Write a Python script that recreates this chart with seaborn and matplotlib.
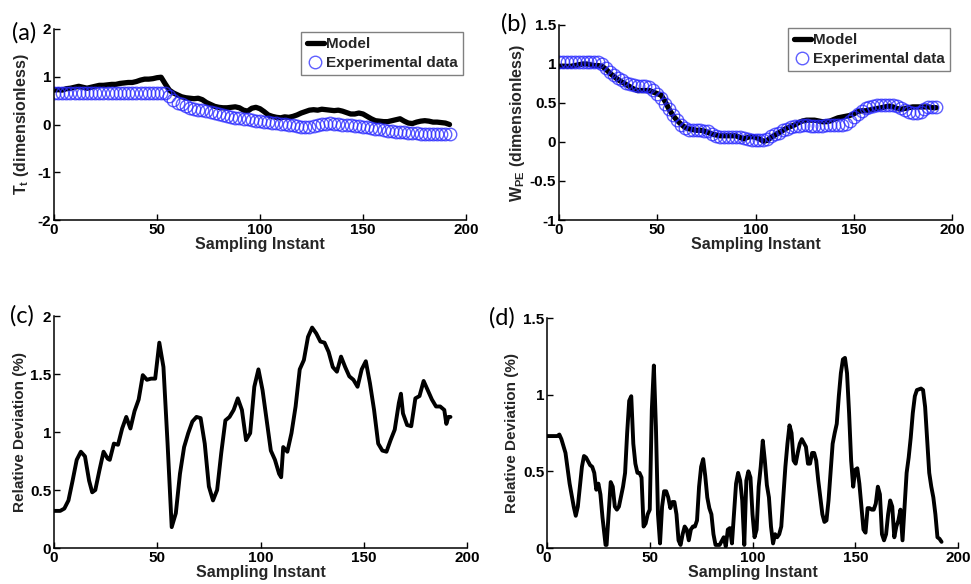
import matplotlib
matplotlib.use('Agg')
import matplotlib.pyplot as plt
import seaborn as sns

# ---- data ----
# panels (a) and (b): one value every 2 sampling instants, 0..192
sample_ab = list(range(0, 193, 2))

tt_model = [0.72, 0.73, 0.72, 0.75, 0.76, 0.78, 0.80, 0.78, 0.76, 0.78,
            0.80, 0.82, 0.82, 0.83, 0.84, 0.84, 0.86, 0.87, 0.88, 0.88,
            0.90, 0.93, 0.95, 0.95, 0.96, 0.98, 0.99, 0.85, 0.72, 0.66,
            0.62, 0.58, 0.56, 0.55, 0.54, 0.55, 0.52, 0.46, 0.42, 0.38,
            0.36, 0.35, 0.35, 0.36, 0.37, 0.35, 0.30, 0.28, 0.34, 0.36,
            0.33, 0.27, 0.20, 0.17, 0.15, 0.14, 0.16, 0.15, 0.17, 0.20,
            0.24, 0.27, 0.30, 0.31, 0.30, 0.32, 0.31, 0.30, 0.29, 0.30,
            0.28, 0.25, 0.22, 0.22, 0.24, 0.22, 0.17, 0.12, 0.08, 0.07,
            0.06, 0.06, 0.08, 0.10, 0.12, 0.07, 0.03, 0.02, 0.05, 0.07,
            0.08, 0.07, 0.05, 0.05, 0.04, 0.03, 0.00]
tt_exp = [0.66, 0.66, 0.65, 0.66, 0.67, 0.67, 0.66, 0.66, 0.65, 0.66,
          0.66, 0.66, 0.66, 0.66, 0.66, 0.66, 0.66, 0.66, 0.66, 0.66,
          0.66, 0.66, 0.66, 0.66, 0.66, 0.66, 0.66, 0.65, 0.60, 0.52,
          0.45, 0.42, 0.38, 0.35, 0.33, 0.31, 0.30, 0.29, 0.27, 0.25,
          0.22, 0.20, 0.18, 0.16, 0.14, 0.13, 0.12, 0.11, 0.10, 0.08,
          0.07, 0.06, 0.05, 0.04, 0.03, 0.02, 0.01, 0.00, -0.01, -0.03,
          -0.05, -0.06, -0.05, -0.03, -0.01, 0.01, 0.02, 0.03, 0.02, 0.01,
          0.00, -0.01, -0.02, -0.03, -0.04, -0.05, -0.06, -0.07, -0.09, -0.10,
          -0.12, -0.13, -0.14, -0.15, -0.15, -0.16, -0.17, -0.18, -0.18, -0.19,
          -0.19, -0.19, -0.20, -0.20, -0.20, -0.20, -0.19]

wpe_model = [0.97, 0.97, 0.97, 0.97, 0.98, 0.99, 1.00, 1.00, 0.99, 0.98,
             0.98, 0.97, 0.93, 0.88, 0.84, 0.80, 0.77, 0.74, 0.71, 0.68,
             0.66, 0.66, 0.66, 0.66, 0.64, 0.62, 0.60, 0.52, 0.42, 0.34,
             0.28, 0.23, 0.19, 0.17, 0.16, 0.15, 0.15, 0.14, 0.12, 0.10,
             0.09, 0.08, 0.08, 0.08, 0.08, 0.08, 0.06, 0.04, 0.06, 0.07,
             0.06, 0.04, 0.01, 0.02, 0.06, 0.09, 0.12, 0.15, 0.18, 0.20,
             0.22, 0.25, 0.27, 0.28, 0.28, 0.28, 0.27, 0.26, 0.26, 0.27,
             0.29, 0.31, 0.32, 0.33, 0.34, 0.36, 0.39, 0.40, 0.40, 0.41,
             0.42, 0.43, 0.44, 0.45, 0.46, 0.45, 0.43, 0.42, 0.43, 0.44,
             0.45, 0.45, 0.45, 0.45, 0.45, 0.44, 0.44]
wpe_exp = [1.03, 1.03, 1.03, 1.03, 1.03, 1.03, 1.03, 1.03, 1.03, 1.03,
           1.03, 1.00, 0.95, 0.90, 0.86, 0.82, 0.79, 0.76, 0.74, 0.73,
           0.72, 0.72, 0.72, 0.71, 0.67, 0.62, 0.56, 0.49, 0.42, 0.35,
           0.28, 0.22, 0.18, 0.16, 0.15, 0.15, 0.15, 0.14, 0.14, 0.10,
           0.08, 0.07, 0.06, 0.06, 0.06, 0.06, 0.06, 0.05, 0.04, 0.03,
           0.02, 0.02, 0.02, 0.04, 0.08, 0.10, 0.12, 0.15, 0.17, 0.19,
           0.20, 0.21, 0.22, 0.22, 0.21, 0.20, 0.20, 0.21, 0.22, 0.22,
           0.22, 0.22, 0.22, 0.23, 0.27, 0.32, 0.36, 0.40, 0.43, 0.45,
           0.46, 0.47, 0.47, 0.47, 0.47, 0.47, 0.46, 0.44, 0.41, 0.38,
           0.37, 0.37, 0.39, 0.42, 0.45, 0.45, 0.45]

# panel (c): relative deviation of T_t
dev_t_x = [0, 3, 5, 7, 9, 11, 13, 15, 17, 18.5, 20, 22, 24, 26, 27, 29, 31, 33,
           35, 37, 39, 41, 43, 45, 47, 49, 51, 53, 55, 57, 59, 61, 63, 65, 67,
           69, 71, 73, 75, 77, 79, 81, 83, 85, 87, 89, 91, 93, 95, 97, 99, 101,
           103, 105, 107, 109, 110, 111, 113, 115, 117, 119, 121, 123, 125, 127,
           129, 131, 133, 135, 137, 139, 141, 143, 145, 147, 149, 151, 153, 155,
           157, 159, 161, 163, 165, 167, 168, 169, 171, 173, 175, 177, 179, 181,
           183, 185, 187, 189, 190, 191, 192]
dev_t_y = [0.32, 0.32, 0.34, 0.41, 0.58, 0.76, 0.83, 0.79, 0.58, 0.48, 0.50,
           0.67, 0.83, 0.77, 0.76, 0.90, 0.89, 1.03, 1.13, 1.03, 1.18, 1.28,
           1.49, 1.45, 1.46, 1.46, 1.77, 1.56, 0.90, 0.18, 0.30, 0.64, 0.87,
           0.99, 1.09, 1.13, 1.12, 0.90, 0.53, 0.41, 0.50, 0.82, 1.10, 1.13,
           1.19, 1.29, 1.19, 0.93, 0.99, 1.39, 1.54, 1.36, 1.10, 0.84, 0.76,
           0.64, 0.61, 0.87, 0.83, 0.99, 1.22, 1.54, 1.62, 1.82, 1.90, 1.85,
           1.78, 1.77, 1.69, 1.56, 1.52, 1.65, 1.56, 1.48, 1.45, 1.39, 1.54,
           1.61, 1.42, 1.19, 0.90, 0.84, 0.83, 0.93, 1.02, 1.25, 1.33, 1.16,
           1.06, 1.05, 1.29, 1.31, 1.44, 1.36, 1.28, 1.22, 1.22, 1.19, 1.07,
           1.13, 1.13]

# panel (d): relative deviation of W_PE
dev_w_x = [0, 5, 6, 7, 9, 11, 13, 14, 15, 17, 18, 19, 21, 22, 23, 24, 25, 26,
           27, 28.5, 29, 30, 31, 32, 33, 34, 35, 37, 38, 39, 40, 41, 42, 43, 44,
           45, 46, 47, 48, 49, 50, 51, 52, 53, 54, 55, 56, 57, 58, 59, 60, 61,
           62, 63, 64, 65, 66, 67, 68, 69, 70, 71, 72, 73, 74, 75, 76, 77, 78,
           79, 80, 81, 82, 84, 86, 87, 88, 89, 90, 91, 92, 93, 94, 95, 96, 97,
           98, 99, 100, 101, 102, 103, 104, 105, 106, 107, 108, 109, 110, 111,
           112, 113, 114, 115, 116, 117, 118, 119, 120, 121, 122, 123, 124, 126,
           127, 128, 129, 130, 131, 132, 134, 135, 136, 137, 139, 140, 141, 142,
           143, 144, 145, 146, 147, 148, 149, 150, 151, 152, 153, 154, 155, 156,
           157, 158, 159, 160, 161, 162, 163, 164, 165, 166, 167, 168, 169, 170,
           171, 172, 173, 174, 175, 176, 177, 178, 179, 180, 182, 183, 184, 185,
           186, 187, 188, 189, 190, 191, 192]
dev_w_y = [0.73, 0.73, 0.74, 0.71, 0.62, 0.42, 0.27, 0.21, 0.27, 0.53, 0.60,
           0.59, 0.54, 0.53, 0.49, 0.38, 0.42, 0.35, 0.20, 0.02, 0.02, 0.22,
           0.43, 0.40, 0.27, 0.25, 0.27, 0.40, 0.49, 0.75, 0.96, 0.99, 0.68,
           0.55, 0.49, 0.49, 0.46, 0.14, 0.16, 0.22, 0.25, 0.90, 1.19, 0.79,
           0.22, 0.03, 0.27, 0.37, 0.37, 0.33, 0.26, 0.30, 0.30, 0.22, 0.05,
           0.02, 0.09, 0.14, 0.12, 0.05, 0.12, 0.14, 0.14, 0.18, 0.40, 0.53,
           0.58, 0.47, 0.33, 0.26, 0.22, 0.09, 0.02, 0.02, 0.07, 0.01, 0.12,
           0.13, 0.03, 0.22, 0.42, 0.49, 0.44, 0.31, 0.02, 0.44, 0.50, 0.46,
           0.22, 0.07, 0.12, 0.40, 0.53, 0.70, 0.57, 0.41, 0.33, 0.14, 0.03,
           0.09, 0.07, 0.09, 0.14, 0.33, 0.53, 0.68, 0.80, 0.75, 0.57, 0.55,
           0.62, 0.68, 0.71, 0.66, 0.55, 0.55, 0.62, 0.62, 0.57, 0.44, 0.22,
           0.17, 0.18, 0.31, 0.68, 0.75, 0.81, 0.99, 1.14, 1.23, 1.24, 1.14,
           0.88, 0.57, 0.40, 0.51, 0.52, 0.42, 0.27, 0.12, 0.10, 0.26, 0.26,
           0.25, 0.25, 0.29, 0.40, 0.35, 0.09, 0.05, 0.09, 0.22, 0.31, 0.27,
           0.07, 0.14, 0.18, 0.25, 0.05, 0.27, 0.49, 0.59, 0.72, 0.88, 0.99,
           1.03, 1.04, 1.03, 0.92, 0.70, 0.49, 0.40, 0.33, 0.22, 0.07, 0.06,
           0.04]

x_ticks = [0, 50, 100, 150, 200]
BLUE = '#2a2aff'

# ---- style ----
sns.set_theme(style='ticks')
plt.rcParams['font.family'] = ['Liberation Sans', 'DejaVu Sans']
plt.rcParams['font.weight'] = 'bold'
plt.rcParams['axes.labelweight'] = 'bold'
plt.rcParams['axes.unicode_minus'] = False
plt.rcParams['mathtext.fontset'] = 'custom'
plt.rcParams['mathtext.bf'] = 'Liberation Sans:bold'
plt.rcParams['mathtext.rm'] = 'Liberation Sans:bold'
plt.rcParams['mathtext.it'] = 'Liberation Sans:bold'

W, H = 971, 584
fig = plt.figure(figsize=(W / 100, H / 100), dpi=100)


def px_axes(left, top, right, bottom):
    """Axes placed by pixel box (origin at top left)"""
    return fig.add_axes([left / W, 1 - bottom / H, (right - left) / W, (bottom - top) / H])


def style_axes(ax, yticks, ylabel, ylabelpad, ylabelsize=11.5):
    """MATLAB-like look: inward ticks, left/bottom spines only"""
    ax.set_xlim(0, 200)
    ax.set_xticks(x_ticks)
    ax.set_xticklabels([str(t) for t in x_ticks], fontweight='bold')
    ax.set_ylim(yticks[0], yticks[-1])
    ax.set_yticks(yticks)
    ax.set_yticklabels([f'{t:g}' for t in yticks], fontweight='bold')
    ax.tick_params(direction='in', length=4, width=1, labelsize=11, pad=2,
                   colors='black')
    sns.despine(ax=ax)
    for side in ['left', 'bottom']:
        ax.spines[side].set_color('black')
        ax.spines[side].set_linewidth(1.1)
    ax.set_xlabel('Sampling Instant', fontsize=11.5, fontweight='bold', labelpad=0)
    ax.set_ylabel(ylabel, fontsize=ylabelsize, fontweight='bold', labelpad=ylabelpad)


def comparison_panel(ax, model, exp, legend_anchor):
    sns.lineplot(x=sample_ab, y=model, ax=ax, color='black', linewidth=3.8,
                 estimator=None, label='Model')
    sns.lineplot(x=sample_ab, y=exp, ax=ax, color=BLUE, linestyle='',
                 marker='o', markersize=9, markerfacecolor='none',
                 markeredgecolor=BLUE, markeredgewidth=1.0, alpha=0.75,
                 estimator=None, label='Experimental data')
    handles, labels = ax.get_legend_handles_labels()
    leg = ax.legend(handles, labels, loc='upper right',
                    bbox_to_anchor=legend_anchor, bbox_transform=fig.transFigure,
                    borderaxespad=0, frameon=True, fancybox=False,
                    edgecolor='#808080', framealpha=1, handlelength=1.1,
                    handletextpad=0.15, borderpad=0.35, labelspacing=0.3,
                    prop={'weight': 'bold', 'size': 11})
    leg.get_frame().set_linewidth(1.0)


# (a)
ax_a = px_axes(54, 29, 466, 220)
comparison_panel(ax_a, tt_model, tt_exp, (463 / W, 1 - 32 / H))
style_axes(ax_a, [-2, -1, 0, 1, 2], r'$\mathbf{T_t}$ (dimensionless)', 5)

# (b)
ax_b = px_axes(559, 25, 952, 220)
comparison_panel(ax_b, wpe_model, wpe_exp, (950 / W, 1 - 28 / H))
style_axes(ax_b, [-1, -0.5, 0, 0.5, 1, 1.5], r'$\mathbf{W_{PE}}$ (dimensionless)', 2)

# (c)
ax_c = px_axes(54, 316, 467, 548)
sns.lineplot(x=dev_t_x, y=dev_t_y, ax=ax_c, color='black', linewidth=2.8,
             estimator=None)
style_axes(ax_c, [0, 0.5, 1, 1.5, 2], 'Relative Deviation (%)', 2, 11)

# (d)
ax_d = px_axes(547, 318, 958, 548)
sns.lineplot(x=dev_w_x, y=dev_w_y, ax=ax_d, color='black', linewidth=2.8,
             estimator=None)
style_axes(ax_d, [0, 0.5, 1, 1.5], 'Relative Deviation (%)', 3, 11)

# panel letters
for letter, lx, ly in [('(a)', 12, 33), ('(b)', 501, 24), ('(c)', 10, 316), ('(d)', 489, 318)]:
    fig.text(lx / W, 1 - ly / H, letter, fontsize=17, fontweight='normal',
             ha='left', va='center', family=['Lato', 'DejaVu Sans'], color='black')

fig.savefig('out.png', dpi=100)
